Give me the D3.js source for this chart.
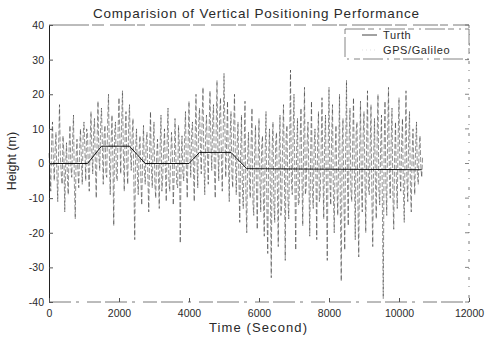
<!DOCTYPE html>
<html>
<head>
	<meta charset="utf-8">
	<title>Vertical Positioning Performance</title>
	<style type="text/css">
		body {
			margin: 0;
			background: #fff;
		}
		svg text {
			font-family: "Liberation Sans", Arial, sans-serif;
			fill: #2a2a2a;
		}
	</style>
	<script src="https://d3js.org/d3.v7.min.js"></script>
</head>
<body>
<script type="text/javascript">
	// GPS/Galileo height estimate, one value every 50 s
	var gpsStep = 50;
	var gpsHeight = [
		3, -8, 12, -5, 9, -11, 17, -3, 8, -14,
		6, -9, 11, -4, 14, -16, 7, -7, 10, -6,
		12, -5, 9, -8, 15, -3, 13, -10, 18, -2,
		16, -6, 11, -4, 20, -9, 14, -18, 12, -5,
		19, -3, 21, -8, 15, -6, 17, -2, 13, -22,
		10, -9, 8, -12, 11, -6, 9, -14, 15, -7,
		12, -10, 7, -13, 14, -4, 10, -11, 16, -8,
		9, -12, 13, -6, 11, -23, 8, -5, 15, -10,
		18, -4, 12, -11, 20, -7, 16, -3, 22, -9,
		14, -6, 21, -2, 17, -10, 24, -5, 19, -8,
		26, -4, 18, -11, 15, -7, 20, -9, 12, -17,
		14, -13, 18, -20, 9, -10, 16, -15, 11, -19,
		13, -14, 8, -21, 15, -26, 10, -33, 12, -17,
		9, -24, 14, -12, 17, -28, 11, -16, 27, -9,
		20, -25, 13, -11, 16, -18, 22, -7, 12, -21,
		18, -13, 10, -22, 15, -9, 19, -16, 14, -28,
		22, -12, 17, -20, 11, -15, 20, -34, 13, -25,
		24, -18, 16, -11, 19, -22, 12, -27, 18, -14,
		15, -20, 21, -9, 17, -24, 13, -16, 20, -12,
		14, -39, 18, -15, 22, -10, 16, -19, 12, -13,
		19, -8, 13, -17, 21, -11, 15, -14, 10, -9,
		12, -6, 8, -4
	];
	// values in between (25 s after each of the above)
	var gpsHeightMid = [
		-2, 6, 1, 4, -3, 5, 2, -6, 3, -1,
		-4, 5, -1, 7, -6, 2, -2, 4, 1, 8,
		4, 10, -2, 6, 3, 9, -1, 7, 2, 11,
		5, 8, -3, 12, 2, 6, 1, 9, -4, 10,
		7, 12, 3, 9, -1, 11, 4, 8, -6, 5,
		-3, 4, -5, 2, -2, 6, -4, 3, -1, 5,
		-6, 2, -3, 5, -8, 4, -2, 6, -5, 1,
		3, -4, 2, -7, 5, 1, -3, 8, -2, 6,
		4, 9, -1, 7, 2, 11, 5, 13, 1, 8,
		3, 10, 6, 12, -2, 9, 4, 14, 2, 7,
		11, 6, 1, 8, -3, 10, 2, 5, -4, 3,
		-7, 4, -9, 2, -5, 6, -11, 3, -6, 1,
		-4, 5, -10, 3, -13, 2, -8, 4, -12, 6,
		-7, 3, -15, 6, -2, 8, -10, 4, -5, 9,
		-6, 4, -12, 7, -3, 5, -9, 6, -4, 2,
		-8, 5, -3, 7, -11, 4, -2, 6, -7, 3,
		-5, 8, -9, 3, -6, 2, -14, 5, -10, 4,
		-4, 7, -8, 5, -2, 9, -11, 3, -6, 8,
		-3, 6, -7, 4, -10, 2, -5, 7, -8, 5,
		-12, 4, -6, 8, -3, 6, -9, 2, -5, 7,
		-2, 6, -8, 4, -4, 7, -6, 3, -1, 5,
		-3, 4, -1, 2
	];

	// true height, breakpoints
	var truthTime = [0, 1100, 1500, 2300, 2750, 4000, 4300, 5200, 5650, 10650];
	var truthHeight = [0, 0, 5, 5, 0, 0, 3.2, 3.2, -1.5, -1.8];

	var xTicks = [0, 2000, 4000, 6000, 8000, 10000, 12000];
	var yTicks = [-40, -30, -20, -10, 0, 10, 20, 30, 40];
	var legendLabels = ["Turth", "GPS/Galileo"];

	var svg = d3.select("body").append("svg")
		.attr("width", 495)
		.attr("height", 339);

	var x = d3.scaleLinear().domain([0, 12000]).range([49, 469]),
		y = d3.scaleLinear().domain([-40, 40]).range([302, 25]);

	var gps = [];
	gpsHeight.forEach(function(v, i) {
		gps.push({t: i * gpsStep, h: v});
		gps.push({t: i * gpsStep + gpsStep / 2, h: gpsHeightMid[i]});
	});
	var truth = truthTime.map(function(t, i) { return {t: t, h: truthHeight[i]}; });

	var line = d3.line()
		.x(function(d) { return x(d.t); })
		.y(function(d) { return y(d.h); });

	// frame (scanned look: broken top/right/bottom)
	var frame = svg.append("g").attr("stroke", "#555").attr("stroke-width", 0.8).attr("fill", "none");
	frame.append("line").attr("x1", x(0)).attr("x2", x(12000)).attr("y1", y(40)).attr("y2", y(40))
		.attr("stroke-dasharray", "40,3,12,6,25,2,8,5");
	frame.append("line").attr("x1", x(0)).attr("x2", x(12000)).attr("y1", y(-40)).attr("y2", y(-40))
		.attr("stroke-dasharray", "22,5,3,8,14,4");
	frame.append("line").attr("x1", x(12000)).attr("x2", x(12000)).attr("y1", y(40)).attr("y2", y(-40))
		.attr("stroke-dasharray", "3,6,1,8");

	// data
	svg.append("path")
		.datum(gps)
		.attr("fill", "none")
		.attr("stroke", "#1a1a1a")
		.attr("stroke-width", 0.6)
		.attr("stroke-opacity", 0.8)
		.attr("stroke-dasharray", "5,2")
		.attr("d", line);

	svg.append("path")
		.datum(truth)
		.attr("fill", "none")
		.attr("stroke", "#111")
		.attr("stroke-width", 1)
		.attr("d", line);

	// axes
	var fmt = function(d) { return String(d); };
	var axisY = d3.axisLeft(y).tickValues(yTicks).tickFormat(fmt).tickSize(-4).tickSizeOuter(0).tickPadding(5);
	var axisX = d3.axisBottom(x).tickValues(xTicks).tickFormat(fmt).tickSize(-4).tickSizeOuter(0).tickPadding(8);

	var gy = svg.append("g").attr("transform", "translate(" + x(0) + ",0)").call(axisY);
	var gx = svg.append("g").attr("transform", "translate(0," + y(-40) + ")").call(axisX);
	gx.select(".domain").attr("stroke", "none");
	[gx, gy].forEach(function(g) {
		g.attr("font-family", null).attr("font-size", null);
		g.selectAll("text").attr("font-size", 10.5).attr("fill", "#2a2a2a");
		g.selectAll(".tick line").attr("stroke", "#555");
	});
	gy.select(".domain").attr("stroke", "#222");

	// right ticks
	svg.append("g").selectAll("line").data(yTicks).join("line")
		.attr("x1", x(12000) - 4).attr("x2", x(12000))
		.attr("y1", function(d) { return y(d); }).attr("y2", function(d) { return y(d); })
		.attr("stroke", "#666").attr("stroke-width", 0.8);

	// legend
	var lg = svg.append("g");
	lg.append("rect")
		.attr("x", 345).attr("y", 29).attr("width", 124).attr("height", 30)
		.attr("fill", "#fff").attr("stroke", "#666").attr("stroke-width", 0.8)
		.attr("stroke-dasharray", "20,3,6,5,2,4");
	lg.append("line").attr("x1", 362).attr("x2", 377).attr("y1", 35).attr("y2", 35)
		.attr("stroke", "#444").attr("stroke-width", 1);
	lg.append("line").attr("x1", 362).attr("x2", 377).attr("y1", 50).attr("y2", 50)
		.attr("stroke", "#ccc").attr("stroke-width", 0.6).attr("stroke-dasharray", "1,3");
	lg.selectAll("text.lab").data(legendLabels).join("text")
		.attr("class", "lab")
		.attr("x", 383)
		.attr("y", function(d, i) { return 39 + i * 15; })
		.attr("font-size", 11)
		.attr("letter-spacing", 0.6)
		.text(function(d) { return d; });

	// titles
	svg.append("text")
		.attr("x", 256).attr("y", 18)
		.attr("text-anchor", "middle")
		.attr("font-size", 13.5)
		.attr("textLength", 326).attr("lengthAdjust", "spacing")
		.text("Comparision of Vertical Positioning Performance");

	svg.append("text")
		.attr("x", 258).attr("y", 332)
		.attr("text-anchor", "middle")
		.attr("font-size", 13)
		.attr("textLength", 98).attr("lengthAdjust", "spacing")
		.text("Time (Second)");

	svg.append("text")
		.attr("transform", "translate(16,161) rotate(-90)")
		.attr("text-anchor", "middle")
		.attr("font-size", 12.5)
		.text("Height (m)");
</script>
</body>
</html>
